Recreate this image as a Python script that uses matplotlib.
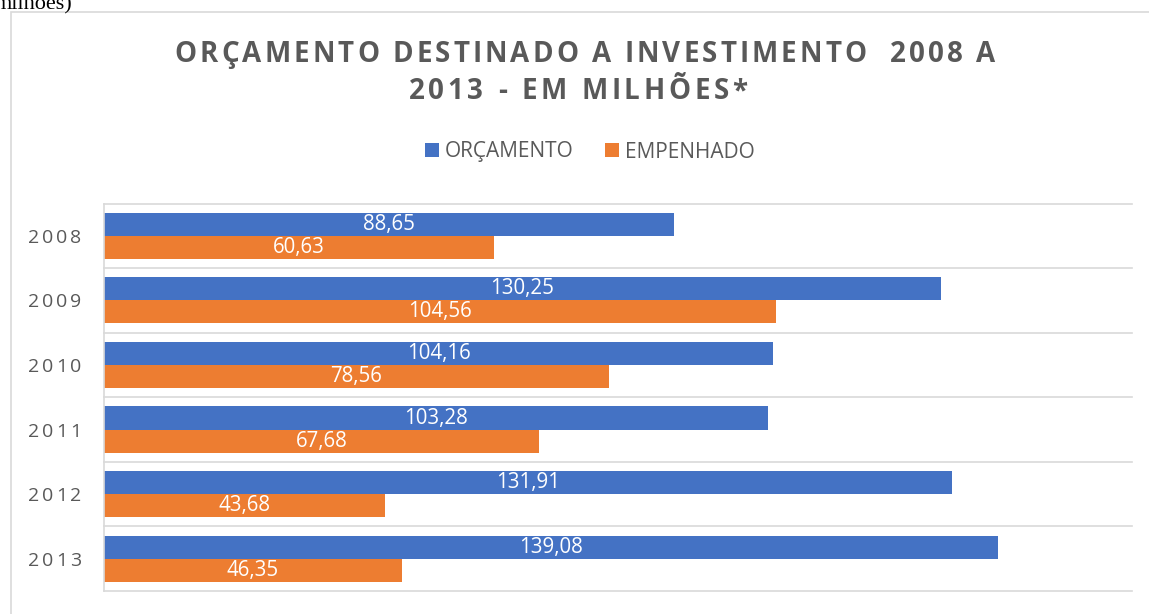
import matplotlib
matplotlib.use("Agg")
import matplotlib.pyplot as plt
import numpy as np
from matplotlib.font_manager import FontProperties, findfont, get_font
from matplotlib.patches import Rectangle
from matplotlib.transforms import IdentityTransform

# dados
anos = ["2008", "2009", "2010", "2011", "2012", "2013"]
orcamento = [88.65, 130.25, 104.16, 103.28, 131.91, 139.08]
empenhado = [60.63, 104.56, 78.56, 67.68, 43.68, 46.35]
series = ["ORÇAMENTO", "EMPENHADO"]
titulo1 = "ORÇAMENTO DESTINADO A INVESTIMENTO  2008 A"
titulo2 = "2013 - EM MILHÕES*"

AZUL = "#4472C4"
LARANJA = "#ED7D31"
CINZA = "#595959"
GRADE = "#D9D9D9"
FONTE = "Open Sans"

W, H = 1149, 614
fig = plt.figure(figsize=(W / 100, H / 100), dpi=100)


def advance_px(c, fp):
    font = get_font(findfont(fp))
    font.set_size(fp.get_size_in_points(), 100)
    g = font.load_char(ord(c))
    return g.linearHoriAdvance / 65536


def spaced_text(x, y, s, size, weight="normal", track=0.0, ha="center", color=CINZA):
    # texto com espaçamento entre letras (coordenadas em pixels, y a partir do topo)
    fp = FontProperties(family=FONTE, size=size, weight=weight)
    adv = [advance_px(c, fp) for c in s]
    total = sum(adv) + track * (len(s) - 1)
    if ha == "center":
        x0 = x - total / 2
    elif ha == "right":
        x0 = x - total
    else:
        x0 = x
    for c, a in zip(s, adv):
        if c != " ":
            fig.text(x0, H - y, c, fontproperties=fp, color=color,
                     transform=IdentityTransform(), ha="left", va="baseline")
        x0 += a + track


# moldura do gráfico
fig.add_artist(Rectangle((11 / W, -0.1), 1.2, 1 - 12 / H + 0.1, transform=fig.transFigure,
                         fill=False, edgecolor=GRADE, linewidth=1.2))
fig.text(72 / W, 1 - 9 / H, "milhões)", family="Liberation Serif", fontsize=16,
         ha="right", va="baseline", color="black")

ax = fig.add_axes([104 / W, 1 - 591 / H, (1132 - 104) / W, (591 - 203.5) / H])
y = np.arange(len(anos))
h = 0.357
b1 = ax.barh(y - h / 2, orcamento, height=h, color=AZUL, label=series[0], zorder=2)
b2 = ax.barh(y + h / 2, empenhado, height=h, color=LARANJA, label=series[1], zorder=2)
ax.set_ylim(len(anos) - 0.5, -0.5)
ax.set_xlim(0, 160)
ax.set_xticks([])
ax.set_yticks([])
for s in ["top", "right", "bottom"]:
    ax.spines[s].set_visible(False)
ax.spines["left"].set_color(GRADE)
ax.spines["left"].set_linewidth(1.2)
for k in range(len(anos) + 1):
    ax.axhline(k - 0.5, color=GRADE, linewidth=1.2, zorder=0, clip_on=False)

fmt = lambda v: f"{v:.2f}".replace(".", ",")
ax.bar_label(b1, labels=[fmt(v) for v in orcamento], label_type="center",
             color="white", fontsize=14.8, family=FONTE)
ax.bar_label(b2, labels=[fmt(v) for v in empenhado], label_type="center",
             color="white", fontsize=14.8, family=FONTE)

# rótulos dos anos
fig.canvas.draw()
for i, ano in enumerate(anos):
    yc = H - ax.transData.transform((0, i))[1]
    spaced_text(81, yc + 7, ano, 14, track=2.7, ha="right")

# título
spaced_text(585, 62, titulo1, 20, weight="bold", track=3.1)
spaced_text(578, 99, titulo2, 20, weight="bold", track=3.7)

fig.legend(handles=[b1, b2], labels=series, loc="center", bbox_to_anchor=(590 / W, 1 - 152 / H),
           ncol=2, frameon=False, prop=FontProperties(family=FONTE, size=15),
           handlelength=0.67, handleheight=0.67, handletextpad=0.3, columnspacing=1.5,
           labelcolor=CINZA)

fig.savefig("out.png", dpi=100)
